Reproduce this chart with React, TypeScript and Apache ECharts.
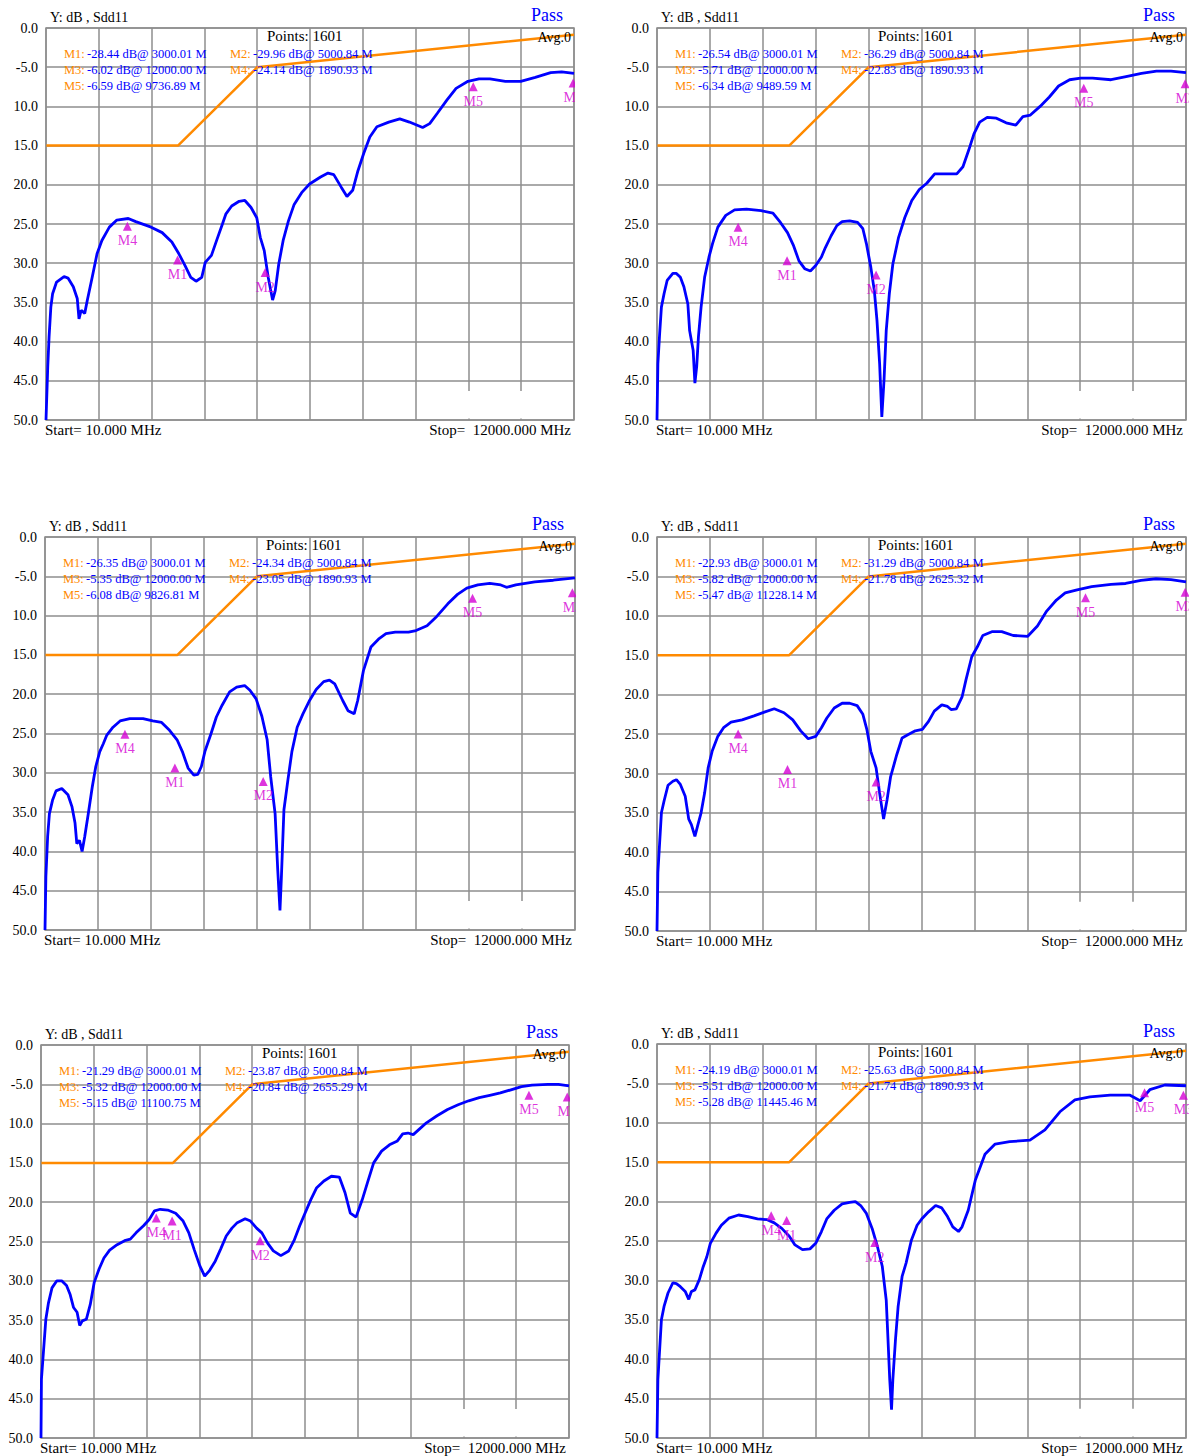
import React, { useEffect, useRef } from 'react';
import * as echarts from 'echarts';

// ---------- data (x: frequency in GHz, y: dB) ----------
const TRACE_1 = [[0,-50],[0.04,-43.2],[0.07,-39.4],[0.11,-35.6],[0.15,-33.9],[0.24,-32.4],[0.41,-31.7],[0.5,-31.9],[0.62,-33],[0.71,-34.5],[0.75,-37.1],[0.8,-36],[0.88,-36.4],[0.94,-34.7],[1.05,-31.8],[1.16,-28.8],[1.27,-27.1],[1.44,-25.4],[1.61,-24.5],[1.87,-24.3],[2.04,-24.7],[2.39,-25.4],[2.64,-26.1],[2.86,-27.3],[3.02,-28.8],[3.16,-30.3],[3.29,-31.8],[3.41,-32.3],[3.54,-31.8],[3.62,-29.9],[3.76,-29],[3.89,-26.9],[4.01,-25],[4.09,-23.7],[4.22,-22.7],[4.39,-22.1],[4.52,-22],[4.66,-22.9],[4.79,-24.2],[4.87,-26.7],[4.96,-28.4],[5.05,-31.8],[5.15,-34.7],[5.21,-33.5],[5.29,-30.1],[5.39,-27.1],[5.51,-24.6],[5.64,-22.5],[5.81,-21],[5.99,-19.9],[6.24,-19],[6.41,-18.5],[6.54,-18.7],[6.71,-20.3],[6.84,-21.5],[6.97,-20.7],[7.09,-18.2],[7.22,-16],[7.36,-13.9],[7.52,-12.6],[7.79,-12],[8.04,-11.6],[8.26,-12],[8.56,-12.7],[8.72,-12.2],[8.89,-10.9],[9.11,-9.2],[9.32,-7.7],[9.59,-6.8],[9.84,-6.5],[10.09,-6.5],[10.44,-6.8],[10.79,-6.8],[11.12,-6.3],[11.47,-5.7],[11.72,-5.6],[12,-5.8]];
const TRACE_2 = [[0,-50],[0.02,-42.8],[0.06,-39],[0.1,-35.6],[0.16,-33.9],[0.23,-32.2],[0.36,-31.3],[0.44,-31.3],[0.53,-31.8],[0.61,-33],[0.7,-35.2],[0.74,-38.6],[0.82,-41.1],[0.86,-45.3],[0.9,-43.2],[0.94,-39.4],[1.0,-35.6],[1.08,-31.8],[1.18,-29.2],[1.26,-27.5],[1.38,-25.4],[1.56,-23.9],[1.76,-23.2],[2.03,-23.1],[2.36,-23.3],[2.63,-23.6],[2.8,-24.8],[2.96,-26.1],[3.1,-27.8],[3.22,-29.7],[3.35,-30.7],[3.48,-31],[3.6,-30.3],[3.73,-29.2],[3.82,-28],[3.95,-26.5],[4.08,-25.2],[4.2,-24.7],[4.37,-24.6],[4.55,-24.8],[4.67,-25.6],[4.75,-27.5],[4.85,-30.5],[4.93,-33.5],[4.99,-37.3],[5.05,-42.8],[5.1,-49.6],[5.15,-44.9],[5.2,-38.6],[5.27,-33.9],[5.35,-30.1],[5.48,-26.7],[5.62,-24.2],[5.78,-22],[5.95,-20.6],[6.12,-19.8],[6.3,-18.6],[6.55,-18.6],[6.8,-18.6],[6.94,-17.7],[7.07,-15.6],[7.19,-13.5],[7.32,-12],[7.49,-11.4],[7.7,-11.5],[7.92,-12.1],[8.14,-12.4],[8.3,-11.3],[8.47,-11.1],[8.69,-10],[8.9,-8.8],[9.11,-7.4],[9.36,-6.6],[9.61,-6.4],[9.88,-6.4],[10.3,-6.6],[10.64,-6.2],[10.99,-5.8],[11.33,-5.5],[11.66,-5.5],[12,-5.7]];
const TRACE_3 = [[0,-50],[0.02,-43.2],[0.06,-38.1],[0.1,-35.2],[0.17,-33.5],[0.25,-32.3],[0.38,-32],[0.52,-32.8],[0.61,-34.3],[0.68,-36.4],[0.72,-39],[0.78,-38.6],[0.84,-40],[0.9,-38.1],[0.98,-35.2],[1.07,-31.8],[1.15,-29.2],[1.24,-27.3],[1.32,-26.3],[1.4,-25.2],[1.54,-24.2],[1.7,-23.4],[1.92,-23.1],[2.22,-23.1],[2.44,-23.4],[2.64,-23.6],[2.82,-24.6],[2.99,-25.8],[3.11,-27.3],[3.24,-29.4],[3.37,-30.3],[3.46,-30.2],[3.54,-29.2],[3.62,-27.3],[3.76,-25],[3.88,-22.9],[4.01,-21.4],[4.18,-19.7],[4.34,-19.1],[4.52,-18.9],[4.64,-19.5],[4.78,-20.6],[4.91,-22.8],[5.03,-25.8],[5.11,-30.5],[5.21,-35.2],[5.27,-42.4],[5.32,-47.5],[5.35,-43.6],[5.41,-34.7],[5.5,-30.9],[5.59,-27.3],[5.71,-24.2],[5.84,-22.5],[5.98,-20.9],[6.14,-19.4],[6.31,-18.4],[6.44,-18.2],[6.56,-18.7],[6.74,-20.8],[6.86,-22.1],[7.0,-22.5],[7.08,-20.8],[7.21,-17],[7.38,-14],[7.55,-13],[7.72,-12.3],[7.93,-12.1],[8.23,-12.1],[8.4,-11.9],[8.65,-11.3],[8.87,-10.1],[9.12,-8.5],[9.34,-7.3],[9.55,-6.5],[9.8,-6.1],[10.07,-5.9],[10.32,-6.1],[10.45,-6.4],[10.66,-6.1],[11.09,-5.7],[11.51,-5.5],[12,-5.2]];
const TRACE_4 = [[0,-50],[0.02,-42.6],[0.06,-38.8],[0.1,-35],[0.16,-33.5],[0.25,-31.5],[0.36,-31],[0.44,-30.8],[0.53,-31.4],[0.64,-32.9],[0.72,-35.8],[0.78,-36.5],[0.86,-38],[0.92,-36.7],[1.0,-35],[1.08,-32.5],[1.16,-29.3],[1.25,-27.2],[1.38,-25.3],[1.51,-24.2],[1.68,-23.5],[1.93,-23.2],[2.2,-22.7],[2.45,-22.2],[2.66,-21.8],[2.88,-22.3],[3.08,-23.2],[3.26,-24.6],[3.43,-25.6],[3.6,-25.3],[3.73,-24.2],[3.85,-23],[4.02,-21.7],[4.2,-21.1],[4.37,-21.1],[4.54,-21.4],[4.67,-22.5],[4.76,-24.4],[4.85,-27.2],[4.97,-29.3],[5.05,-32.5],[5.14,-35.8],[5.22,-33.3],[5.3,-30.4],[5.44,-27.6],[5.56,-25.5],[5.69,-25.1],[5.86,-24.6],[6.02,-24.4],[6.16,-23.4],[6.29,-22.1],[6.46,-21.3],[6.59,-21.5],[6.67,-21.9],[6.79,-21.8],[6.92,-20.3],[7.01,-18.1],[7.14,-15.2],[7.27,-13.9],[7.39,-12.5],[7.61,-12],[7.82,-12],[8.08,-12.5],[8.41,-12.6],[8.63,-11.3],[8.84,-9.4],[9.06,-8],[9.26,-7.1],[9.53,-6.7],[9.86,-6.3],[10.3,-6],[10.63,-5.9],[10.98,-5.5],[11.32,-5.3],[11.66,-5.4],[12,-5.7]];
const TRACE_5 = [[0,-50],[0.01,-42.5],[0.06,-38.7],[0.11,-34.9],[0.17,-32.8],[0.25,-30.9],[0.36,-30],[0.47,-30],[0.58,-30.6],[0.66,-31.7],[0.74,-33.4],[0.82,-34],[0.88,-35.7],[0.94,-35.1],[1.03,-34.9],[1.12,-33],[1.21,-30.2],[1.32,-28.5],[1.43,-27.1],[1.56,-26.1],[1.73,-25.4],[1.9,-24.9],[2.03,-24.7],[2.16,-23.9],[2.33,-23],[2.46,-22.2],[2.58,-21.1],[2.71,-20.9],[2.88,-21],[3.06,-21.4],[3.23,-22.4],[3.36,-23.9],[3.48,-26],[3.61,-28.1],[3.72,-29.4],[3.83,-28.7],[3.96,-27.5],[4.08,-26],[4.21,-24.3],[4.34,-23.3],[4.46,-22.6],[4.64,-22.1],[4.76,-22.4],[4.9,-23.3],[5.02,-23.9],[5.15,-25.2],[5.28,-26.2],[5.45,-26.8],[5.63,-26.2],[5.75,-24.9],[5.88,-23],[6.0,-21.4],[6.13,-19.7],[6.26,-18.2],[6.43,-17.3],[6.6,-16.7],[6.78,-16.8],[6.91,-18.8],[7.03,-21.4],[7.16,-21.9],[7.3,-19.7],[7.42,-17.5],[7.56,-15],[7.74,-13.5],[7.92,-12.7],[8.1,-12.2],[8.22,-11.3],[8.34,-11.2],[8.46,-11.4],[8.58,-10.8],[8.76,-9.9],[9.0,-9.0],[9.24,-8.2],[9.48,-7.6],[9.72,-7.1],[9.96,-6.7],[10.2,-6.4],[10.44,-6.1],[10.68,-5.7],[10.92,-5.3],[11.16,-5.1],[11.52,-5.0],[11.76,-5.0],[12,-5.2]];
const TRACE_6 = [[0,-50],[0.02,-42.6],[0.06,-38.8],[0.1,-35],[0.16,-33.3],[0.25,-31.6],[0.36,-30.3],[0.44,-30.4],[0.53,-30.8],[0.64,-31.4],[0.72,-32.4],[0.78,-31.4],[0.86,-31.2],[0.96,-29.9],[1.04,-28.4],[1.13,-27],[1.21,-25.3],[1.34,-24],[1.46,-23],[1.63,-22.1],[1.85,-21.7],[2.06,-21.9],[2.28,-22.2],[2.5,-22.3],[2.66,-22.7],[2.83,-23.4],[3.0,-24.4],[3.13,-25.5],[3.3,-26.1],[3.47,-26],[3.6,-25.3],[3.73,-23.8],[3.85,-22.2],[4.02,-21.1],[4.2,-20.3],[4.37,-20.1],[4.5,-20],[4.62,-20.5],[4.75,-21.5],[4.88,-23.4],[5.0,-25.7],[5.11,-28.2],[5.2,-32.5],[5.24,-37.5],[5.28,-42.6],[5.32,-46.4],[5.35,-42.6],[5.41,-37.5],[5.47,-33.3],[5.56,-29.5],[5.65,-27.8],[5.77,-24.9],[5.9,-23],[6.02,-22.1],[6.16,-21.3],[6.32,-20.5],[6.46,-20.8],[6.59,-21.9],[6.71,-23.2],[6.84,-23.8],[6.92,-23.2],[7.06,-21.1],[7.14,-19.2],[7.22,-17.3],[7.44,-14],[7.67,-12.7],[8.0,-12.4],[8.46,-12.2],[8.8,-10.9],[9.14,-8.6],[9.48,-7.1],[9.82,-6.7],[10.28,-6.5],[10.73,-6.5],[10.96,-7.2],[11.18,-5.8],[11.52,-5.2],[12,-5.3]];

const LIMIT_LINE = [[0.01,-15],[3.0,-15],[4.8,-5],[12,-0.85]];

const Y_TICK_VALUES = [0,-5,-10,-15,-20,-25,-30,-35,-40,-45,-50];
const Y_TICK_LABELS = ['0.0','-5.0','10.0','15.0','20.0','25.0','30.0','35.0','40.0','45.0','50.0'];

const MARKER_NAMES = ['M4','M1','M2','M5','M3'];
const MARKERS_1 = [[1.85,-25.3],[2.99,-29.6],[4.98,-31.2],[9.71,-7.5],[11.98,-7.0]];
const MARKERS_2 = [[1.84,-25.4],[2.95,-29.7],[4.97,-31.5],[9.68,-7.7],[11.98,-7.1]];
const MARKERS_3 = [[1.81,-25.1],[2.94,-29.4],[4.94,-31.1],[9.68,-7.8],[11.94,-7.1]];
const MARKERS_4 = [[1.84,-25.0],[2.96,-29.5],[4.97,-31.1],[9.72,-7.7],[11.98,-7.0]];
const MARKERS_5 = [[2.62,-22.0],[2.98,-22.4],[4.98,-24.9],[11.09,-6.4],[11.96,-6.6]];
const MARKERS_6 = [[2.59,-21.8],[2.94,-22.4],[4.94,-25.2],[11.06,-6.2],[11.94,-6.5]];

const READOUT_KEYS = ['M1:','M2:','M3:','M4:','M5:'];
const READOUTS_1 = ['-28.44 dB@ 3000.01 M','-29.96 dB@ 5000.84 M','-6.02 dB@ 12000.00 M','-24.14 dB@ 1890.93 M','-6.59 dB@ 9736.89 M'];
const READOUTS_2 = ['-26.54 dB@ 3000.01 M','-36.29 dB@ 5000.84 M','-5.71 dB@ 12000.00 M','-22.83 dB@ 1890.93 M','-6.34 dB@ 9489.59 M'];
const READOUTS_3 = ['-26.35 dB@ 3000.01 M','-24.34 dB@ 5000.84 M','-5.35 dB@ 12000.00 M','-23.05 dB@ 1890.93 M','-6.08 dB@ 9826.81 M'];
const READOUTS_4 = ['-22.93 dB@ 3000.01 M','-31.29 dB@ 5000.84 M','-5.82 dB@ 12000.00 M','-21.78 dB@ 2625.32 M','-5.47 dB@ 11228.14 M'];
const READOUTS_5 = ['-21.29 dB@ 3000.01 M','-23.87 dB@ 5000.84 M','-5.32 dB@ 12000.00 M','-20.84 dB@ 2655.29 M','-5.15 dB@ 11100.75 M'];
const READOUTS_6 = ['-24.19 dB@ 3000.01 M','-25.63 dB@ 5000.84 M','-5.51 dB@ 12000.00 M','-21.74 dB@ 1890.93 M','-5.28 dB@ 11445.46 M'];

const TITLE_TEXT = 'Y: dB , Sdd11';
const POINTS_TEXT = 'Points: 1601';
const AVG_TEXT = 'Avg.0';
const PASS_TEXT = 'Pass';
const START_TEXT = 'Start= 10.000 MHz';
const STOP_TEXT = 'Stop=  12000.000 MHz';

const TRACES = [TRACE_1, TRACE_2, TRACE_3, TRACE_4, TRACE_5, TRACE_6];
const MARKERS = [MARKERS_1, MARKERS_2, MARKERS_3, MARKERS_4, MARKERS_5, MARKERS_6];
const READOUTS = [READOUTS_1, READOUTS_2, READOUTS_3, READOUTS_4, READOUTS_5, READOUTS_6];

// ---------- layout / style ----------
const PANELS = [
  { left: 46, top: 28, width: 528, height: 392, side: 'L' },
  { left: 657, top: 28, width: 529, height: 392, side: 'R' },
  { left: 45, top: 537, width: 530, height: 393, side: 'L' },
  { left: 657, top: 537, width: 529, height: 394, side: 'R' },
  { left: 41, top: 1045, width: 528, height: 393, side: 'L' },
  { left: 657, top: 1044, width: 529, height: 394, side: 'R' },
];
const FONT = '"Liberation Serif", "Times New Roman", "DejaVu Serif", serif';
const GRID_COLOR = '#8e8e8e';
const BLUE = '#0000ff';
const ORANGE = '#ff8a00';
const MAGENTA = '#d400d4';

export default function App() {
  const ref = useRef<HTMLDivElement>(null);
  useEffect(() => {
    document.body.style.margin = '0';
    const chart = echarts.init(ref.current as HTMLDivElement, null, { renderer: 'svg' });
    const grid: any[] = [];
    const xAxis: any[] = [];
    const yAxis: any[] = [];
    const series: any[] = [];
    const graphic: any[] = [];
    const readoutPos = [[0, 0], [1, 0], [0, 1], [1, 1], [0, 2]];

    PANELS.forEach((p, i) => {
      grid.push({
        left: p.left, top: p.top, width: p.width, height: p.height,
        show: true, borderColor: GRID_COLOR, borderWidth: 1.5, backgroundColor: '#ffffff',
      });
      xAxis.push({
        type: 'value', gridIndex: i, min: 0, max: 12, interval: 1.2,
        axisLine: { show: false }, axisTick: { show: false }, axisLabel: { show: false },
        splitLine: { show: true, lineStyle: { color: GRID_COLOR, width: 1.5 } },
      });
      yAxis.push({
        type: 'value', gridIndex: i, min: -50, max: 0, interval: 5,
        axisLine: { show: false }, axisTick: { show: false },
        axisLabel: {
          show: true, margin: 8, color: '#000', fontFamily: FONT, fontSize: 14,
          formatter: (v: number) => {
            const k = Y_TICK_VALUES.indexOf(Math.round(v));
            return k >= 0 ? Y_TICK_LABELS[k] : '';
          },
        },
        splitLine: { show: true, lineStyle: { color: GRID_COLOR, width: 1.5 } },
      });
      series.push({
        type: 'line', xAxisIndex: i, yAxisIndex: i, data: LIMIT_LINE, showSymbol: false, symbol: 'none',
        lineStyle: { color: ORANGE, width: 2.5 }, silent: true, z: 2,
        markArea: {
          silent: true, itemStyle: { color: '#ffffff', opacity: 1 }, label: { show: false },
          data: [[{ coord: [9.56, -46.3] }, { coord: [10.84, -49.8] }]],
        },
      });
      series.push({
        type: 'line', xAxisIndex: i, yAxisIndex: i, data: TRACES[i], showSymbol: false, symbol: 'none',
        lineStyle: { color: BLUE, width: 2.8 }, clip: true, silent: true, z: 3,
      });
      series.push({
        type: 'scatter', xAxisIndex: i, yAxisIndex: i,
        data: MARKERS[i].map((v, k) => ({ name: MARKER_NAMES[k], value: v })),
        symbol: 'triangle', symbolSize: [9, 9], itemStyle: { color: MAGENTA }, silent: true, z: 4,
        label: { show: true, position: 'bottom', distance: 3, formatter: '{b}', color: MAGENTA, fontFamily: FONT, fontSize: 14 },
      });

      const right = p.left + p.width;
      const bottom = p.top + p.height;
      const txt = (x: number, y: number, text: string, fill: string, size: number, align: string) => ({
        type: 'text', x, y, z: 10, silent: true,
        style: { text, fill, fontSize: size, fontFamily: FONT, align, verticalAlign: 'middle' },
      });
      graphic.push(txt(p.left + 4, p.top - 11, TITLE_TEXT, '#000', 14, 'left'));
      graphic.push(txt(right - 11, p.top - 13, PASS_TEXT, BLUE, 18, 'right'));
      graphic.push(txt(p.left + 221, p.top + 8, POINTS_TEXT, '#000', 15, 'left'));
      graphic.push(txt(right - 3, p.top + 9, AVG_TEXT, '#000', 14, 'right'));
      graphic.push(txt(p.left - 1, bottom + 10, START_TEXT, '#000', 15, 'left'));
      graphic.push(txt(right - 3, bottom + 10, STOP_TEXT, '#000', 15, 'right'));
      READOUT_KEYS.forEach((key, k) => {
        const [col, row] = readoutPos[k];
        const x0 = p.left + 18 + col * 166;
        const y0 = p.top + 26 + row * 16;
        graphic.push(txt(x0, y0, key, ORANGE, 12.5, 'left'));
        graphic.push(txt(x0 + 23, y0, READOUTS[i][k], BLUE, 12.5, 'left'));
      });
      if (p.side === 'L') {
        graphic.push({
          type: 'rect', z: 20, silent: true,
          shape: { x: right + 1, y: p.top + 40, width: 22, height: 80 },
          style: { fill: '#ffffff' },
        });
      }
    });

    chart.setOption({
      animation: false,
      backgroundColor: '#ffffff',
      grid, xAxis, yAxis, series, graphic,
    });
    return () => chart.dispose();
  }, []);
  return <div ref={ref} style={{ width: 1189, height: 1456 }} />;
}
